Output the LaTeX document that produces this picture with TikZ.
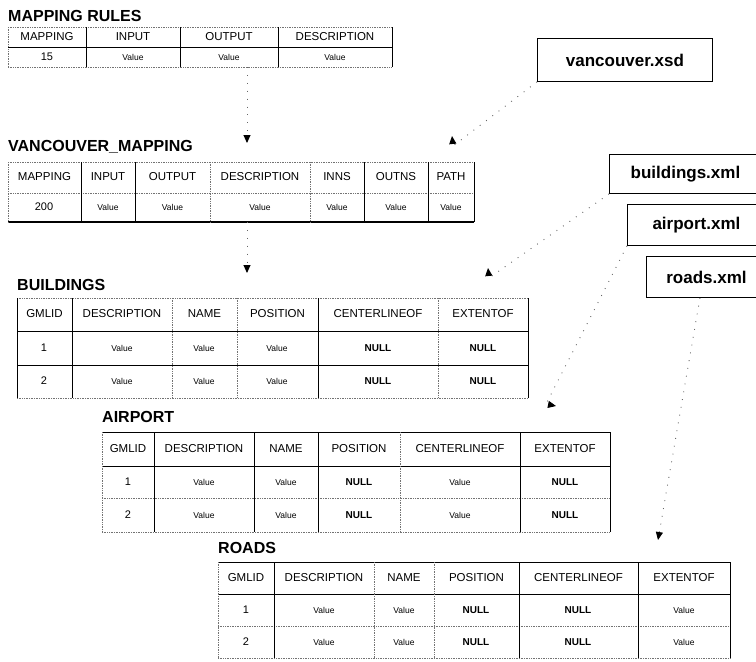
\documentclass[tikz,border=0pt]{standalone}
\usepackage{fontspec}
\setmainfont{Liberation Sans}
\usetikzlibrary{arrows.meta,calc,positioning}
\tikzset{
    myrule/.style={line width=0.9pt,draw=black},
    myfaint/.style={line width=0.7pt,draw=black!55,densely dotted},
    mytitle/.style={font=\fontsize{16}{18}\selectfont\bfseries,anchor=west,inner sep=0pt},
    myhead/.style={font=\fontsize{11.5}{13}\selectfont,inner sep=0pt},
    myval/.style={font=\fontsize{8.5}{10}\selectfont,inner sep=0pt},
    mynull/.style={font=\fontsize{10}{11}\selectfont\bfseries,inner sep=0pt},
    mynum/.style={font=\fontsize{11}{12}\selectfont,inner sep=0pt},
    myfile/.style={draw=black,line width=0.9pt,font=\fontsize{17}{19}\selectfont\bfseries,anchor=north west,inner sep=0pt},
    mylink/.style={draw=black!60,line width=0.9pt,dash pattern=on 0.9pt off 7pt,-{Triangle[length=8pt,width=7pt,color=black]}}
}

\begin{document}
\begin{tikzpicture}[x=1pt,y=-1pt]
    \useasboundingbox (0,0) rectangle (756,662);

    % 映射规则表
    \node[mytitle] (rulestitle) at (8,16) {MAPPING RULES};
    \draw[myfaint] (8,27) -- (392,27) (8,67) -- (392,67) (8,27) -- (8,67);
    \draw[myrule] (8,47) -- (392,47);
    \foreach \x in {86,180,278,392} \draw[myrule] (\x,27) -- (\x,67);
    \foreach \a/\b/\t [count=\i] in {8/86/MAPPING,86/180/INPUT,180/278/OUTPUT,278/392/DESCRIPTION}
        \node[myhead] (rulesh\i) at ({(\a+\b)/2},37) {\t};
    \node[mynum] (rulesv1) at (47,57) {15};
    \foreach \a/\b [count=\i from 2] in {86/180,180/278,278/392}
        \node[myval] (rulesv\i) at ({(\a+\b)/2},57) {Value};

    % VANCOUVER_MAPPING 表
    \node[mytitle] (vantitle) at (8,147) {VANCOUVER\_MAPPING};
    \draw[myfaint] (8,162) -- (474,162) (8,193) -- (474,193);
    \draw[myrule,line width=1.4pt] (8,222) -- (474,222);
    \foreach \x in {8,210,310} \draw[myfaint] (\x,162) -- (\x,222);
    \foreach \x in {81,135,364,428,474} \draw[myrule] (\x,162) -- (\x,222);
    \foreach \a/\b/\t [count=\i] in {8/81/MAPPING,81/135/INPUT,135/210/OUTPUT,210/310/DESCRIPTION,310/364/INNS,364/428/OUTNS,428/474/PATH}
        \node[myhead] (vanh\i) at ({(\a+\b)/2},177) {\t};
    \node[mynum] (vanv1) at (44,207) {200};
    \foreach \a/\b [count=\i from 2] in {81/135,135/210,210/310,310/364,364/428,428/474}
        \node[myval] (vanv\i) at ({(\a+\b)/2},207) {Value};

    % BUILDINGS 表
    \node[mytitle] (bldtitle) at (17,285) {BUILDINGS};
    \draw[myfaint] (17,298) -- (528,298) (17,398) -- (528,398);
    \draw[myrule] (17,331) -- (528,331) (17,365) -- (528,365);
    \foreach \x in {172,237,438} \draw[myfaint] (\x,298) -- (\x,398);
    \foreach \x in {17,72,318,528} \draw[myrule] (\x,298) -- (\x,398);
    \foreach \a/\b/\t [count=\i] in {17/72/GMLID,72/172/DESCRIPTION,172/237/NAME,237/318/POSITION,318/438/CENTERLINEOF,438/528/EXTENTOF}
        \node[myhead] (bldh\i) at ({(\a+\b)/2},314) {\t};
    \foreach \y/\n in {348/1,381/2} {
        \node[mynum] (bld\n a) at (44,\y) {\n};
        \node[myval] (bld\n b) at (122,\y) {Value};
        \node[myval] (bld\n c) at (204,\y) {Value};
        \node[myval] (bld\n d) at (277,\y) {Value};
        \node[mynull] (bld\n e) at (378,\y) {NULL};
        \node[mynull] (bld\n f) at (483,\y) {NULL};
    }

    % AIRPORT 表
    \node[mytitle] (airtitle) at (102,417) {AIRPORT};
    \draw[myrule] (102,432) -- (610,432) (102,466) -- (610,466);
    \draw[myfaint] (102,498) -- (610,498) (102,532) -- (610,532);
    \foreach \x in {102,400} \draw[myfaint] (\x,432) -- (\x,532);
    \foreach \x in {154,254,318,520,610} \draw[myrule] (\x,432) -- (\x,532);
    \foreach \a/\b/\t [count=\i] in {102/154/GMLID,154/254/DESCRIPTION,254/318/NAME,318/400/POSITION,400/520/CENTERLINEOF,520/610/EXTENTOF}
        \node[myhead] (airh\i) at ({(\a+\b)/2},449) {\t};
    \foreach \y/\n in {482/1,515/2} {
        \node[mynum] (air\n a) at (128,\y) {\n};
        \node[myval] (air\n b) at (204,\y) {Value};
        \node[myval] (air\n c) at (286,\y) {Value};
        \node[mynull] (air\n d) at (359,\y) {NULL};
        \node[myval] (air\n e) at (460,\y) {Value};
        \node[mynull] (air\n f) at (565,\y) {NULL};
    }

    % ROADS 表
    \node[mytitle] (roadtitle) at (218,548) {ROADS};
    \draw[myrule] (218,562) -- (730,562) (218,594) -- (730,594);
    \draw[myfaint] (218,626) -- (730,626) (218,658) -- (730,658);
    \foreach \x in {218,374,434} \draw[myfaint] (\x,562) -- (\x,658);
    \foreach \x in {274,519,638,730} \draw[myrule] (\x,562) -- (\x,658);
    \foreach \a/\b/\t [count=\i] in {218/274/GMLID,274/374/DESCRIPTION,374/434/NAME,434/519/POSITION,519/638/CENTERLINEOF,638/730/EXTENTOF}
        \node[myhead] (roadh\i) at ({(\a+\b)/2},578) {\t};
    \foreach \y/\n in {610/1,642/2} {
        \node[mynum] (road\n a) at (246,\y) {\n};
        \node[myval] (road\n b) at (324,\y) {Value};
        \node[myval] (road\n c) at (404,\y) {Value};
        \node[mynull] (road\n d) at (476,\y) {NULL};
        \node[mynull] (road\n e) at (578,\y) {NULL};
        \node[myval] (road\n f) at (684,\y) {Value};
    }

    % 文件
    \node[myfile,minimum width=175pt,minimum height=43pt] (xsd) at (537,38) {vancouver.xsd};
    \node[myfile,minimum width=152pt,minimum height=39pt] (bxml) at (609,154) {buildings.xml};
    \node[myfile,minimum width=138pt,minimum height=41pt] (axml) at (627,204) {airport.xml};
    \node[myfile,minimum width=120pt,minimum height=41pt] (rxml) at (646,256) {roads.xml};

    % 连线
    \coordinate (rulesout) at (247,67);
    \coordinate (vanin) at (247,143);
    \coordinate (vanout) at (247,222);
    \coordinate (bldin) at (247,273);
    \draw[mylink] (rulesout) -- (vanin);
    \draw[mylink] (vanout) -- (bldin);
    \draw[mylink] (xsd.south west) -- (453,146) -- (452,136);
    \draw[mylink] (bxml.south west) -- (489,278) -- (488,268);
    \draw[mylink] (axml.south west) -- (546,404) -- (556,406);
    \draw[mylink] ($(rxml.south west)+(54,0)$) -- (658,540);
\end{tikzpicture}
\end{document}
